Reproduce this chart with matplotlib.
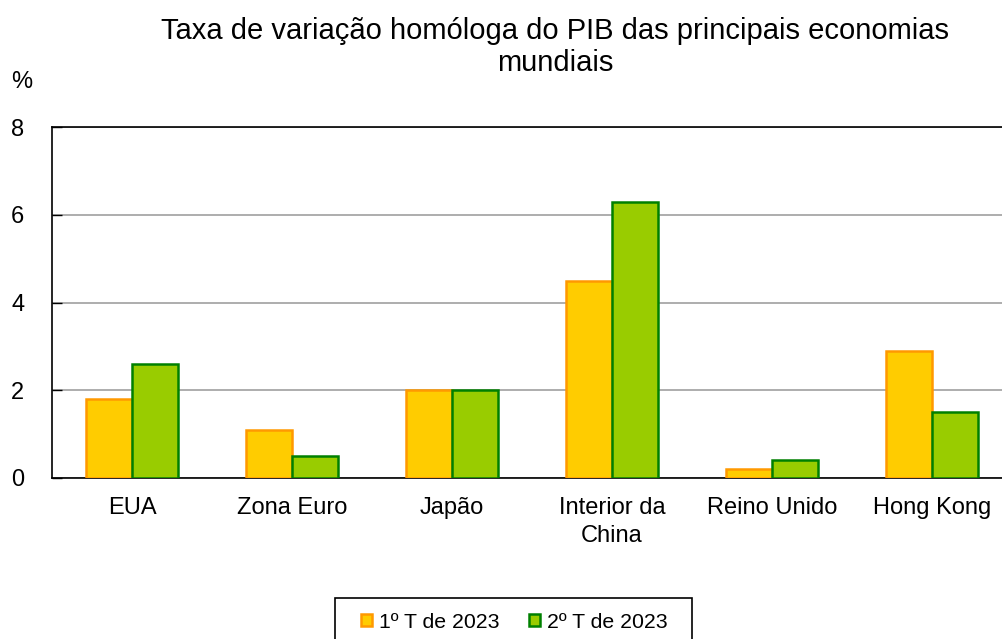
import matplotlib.pyplot as plt
import numpy as np
from matplotlib.patches import Rectangle

plt.rcParams['font.family'] = ['Liberation Sans', 'DejaVu Sans']

categories = ["EUA", "Zona Euro", "Japão", "Interior da\nChina", "Reino Unido", "Hong Kong"]
q1 = [1.8, 1.1, 2.0, 4.5, 0.2, 2.9]
q2 = [2.6, 0.5, 2.0, 6.3, 0.4, 1.5]
series_names = ["1º T de 2023", "2º T de 2023"]

W, H = 1003, 639
fig = plt.figure(figsize=(W / 100, H / 100), dpi=100)
ax = fig.add_axes([52 / W, (H - 478) / H, 960 / W, (478 - 127) / H])

x = np.arange(len(categories))
w = 0.2875
ax.bar(x - w / 2, q1, w, color='#FFCC00', edgecolor='#FF9900', linewidth=1.8,
       label=series_names[0], zorder=3)
ax.bar(x + w / 2, q2, w, color='#99CC00', edgecolor='#008000', linewidth=1.8,
       label=series_names[1], zorder=3)

ax.set_xlim(-0.5, len(categories) - 0.5)
ax.set_ylim(0, 8)
ax.set_yticks([0, 2, 4, 6, 8])
ax.yaxis.grid(True, color='#A0A0A0', linewidth=1.2, zorder=0)
ax.set_xticks(x)
ax.set_xticklabels(categories, fontsize=17, linespacing=1.3)
ax.tick_params(axis='x', length=0, pad=14)
ax.tick_params(axis='y', direction='in', length=7, width=1, labelsize=17, pad=20)
ax.spines['right'].set_visible(False)
for s in ['left', 'top', 'bottom']:
    ax.spines[s].set_linewidth(1.2)

fig.text(555 / W, 1 - 47 / H, "Taxa de variação homóloga do PIB das principais economias\nmundiais",
         ha='center', va='center', fontsize=21, linespacing=1.15)
fig.text(22 / W, 1 - 82 / H, "%", ha='center', va='center', fontsize=17)

# legend box
fig.patches.append(Rectangle((335 / W, -0.05), (692 - 335) / W, (H - 598) / H + 0.05,
                             transform=fig.transFigure, fill=False, edgecolor='#000000',
                             linewidth=1.2))
leg = fig.legend(loc='center', bbox_to_anchor=(514 / W, 1 - 622 / H), ncol=2, fontsize=15.3,
                 frameon=False, handlelength=0.52, handleheight=0.52, handletextpad=0.33,
                 columnspacing=1.4, borderpad=0.3)

fig.savefig('out.png', dpi=100)
